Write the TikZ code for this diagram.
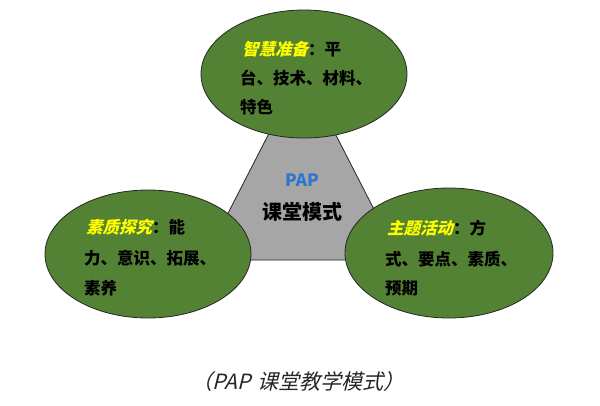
\documentclass[tikz,border=0pt]{standalone}
\usepackage{fontspec}
\usetikzlibrary{shapes.geometric}
\newfontfamily\cjk{Noto Sans CJK SC}
\newfontfamily\cjkslant[FakeSlant=0.25]{Noto Sans CJK SC}
\definecolor{leafgreen}{RGB}{84,130,53}
\definecolor{trigray}{RGB}{166,166,166}
\definecolor{hiyellow}{RGB}{255,255,0}
\definecolor{papblue}{RGB}{46,117,208}
\tikzset{
  bubble/.style={ellipse, draw=black!85, line width=0.8pt, fill=leafgreen, minimum width=#1},
  bubble/.default=206pt,
  linetxt/.style={anchor=west, inner sep=0pt, font=\cjk\bfseries\fontsize{16.5}{18}\selectfont, text=black},
}
\begin{document}
\begin{tikzpicture}[x=1pt,y=-1pt]
\useasboundingbox[fill=white] (0,0) rectangle (600,405);
% central triangle
\coordinate (apex) at (302,69);
\coordinate (bl) at (204,260);
\coordinate (br) at (400,260);
\draw[fill=trigray, draw=black!85, line width=0.8pt] (apex) -- (bl) -- (br) -- cycle;
\node[font=\cjk\bfseries\fontsize{17}{18}\selectfont, text=papblue] (pap) at (302,180) {PAP};
\node[font=\cjk\bfseries\fontsize{20}{22}\selectfont] (ktms) at (302,212) {课堂模式};
% ellipses
\node[bubble, minimum height=128pt] (top) at (304,74) {};
\node[bubble, minimum height=128pt] (left) at (148,254) {};
\node[bubble, minimum width=208pt, minimum height=130pt] (right) at (449,253) {};
% top text
\node[linetxt] (t1) at (242,49) {{\color{hiyellow}\cjkslant\bfseries 智慧准备}：平};
\node[linetxt] (t2) at (240,78) {台、技术、材料、};
\node[linetxt] (t3) at (240,107) {特色};
% left text
\node[linetxt] (l1) at (86,227) {{\color{hiyellow}\cjkslant\bfseries 素质探究}：能};
\node[linetxt] (l2) at (84,258) {力、意识、拓展、};
\node[linetxt] (l3) at (84,288) {素养};
% right text
\node[linetxt] (r1) at (387,228) {{\color{hiyellow}\cjkslant\bfseries 主题活动}：方};
\node[linetxt] (r2) at (385,259) {式、要点、素质、};
\node[linetxt] (r3) at (385,288) {预期};
% caption
\node[font=\cjkslant\fontsize{21}{22}\selectfont, text=black!85] (cap) at (298,382) {（PAP\,\,课堂教学模式）};
\end{tikzpicture}
\end{document}
